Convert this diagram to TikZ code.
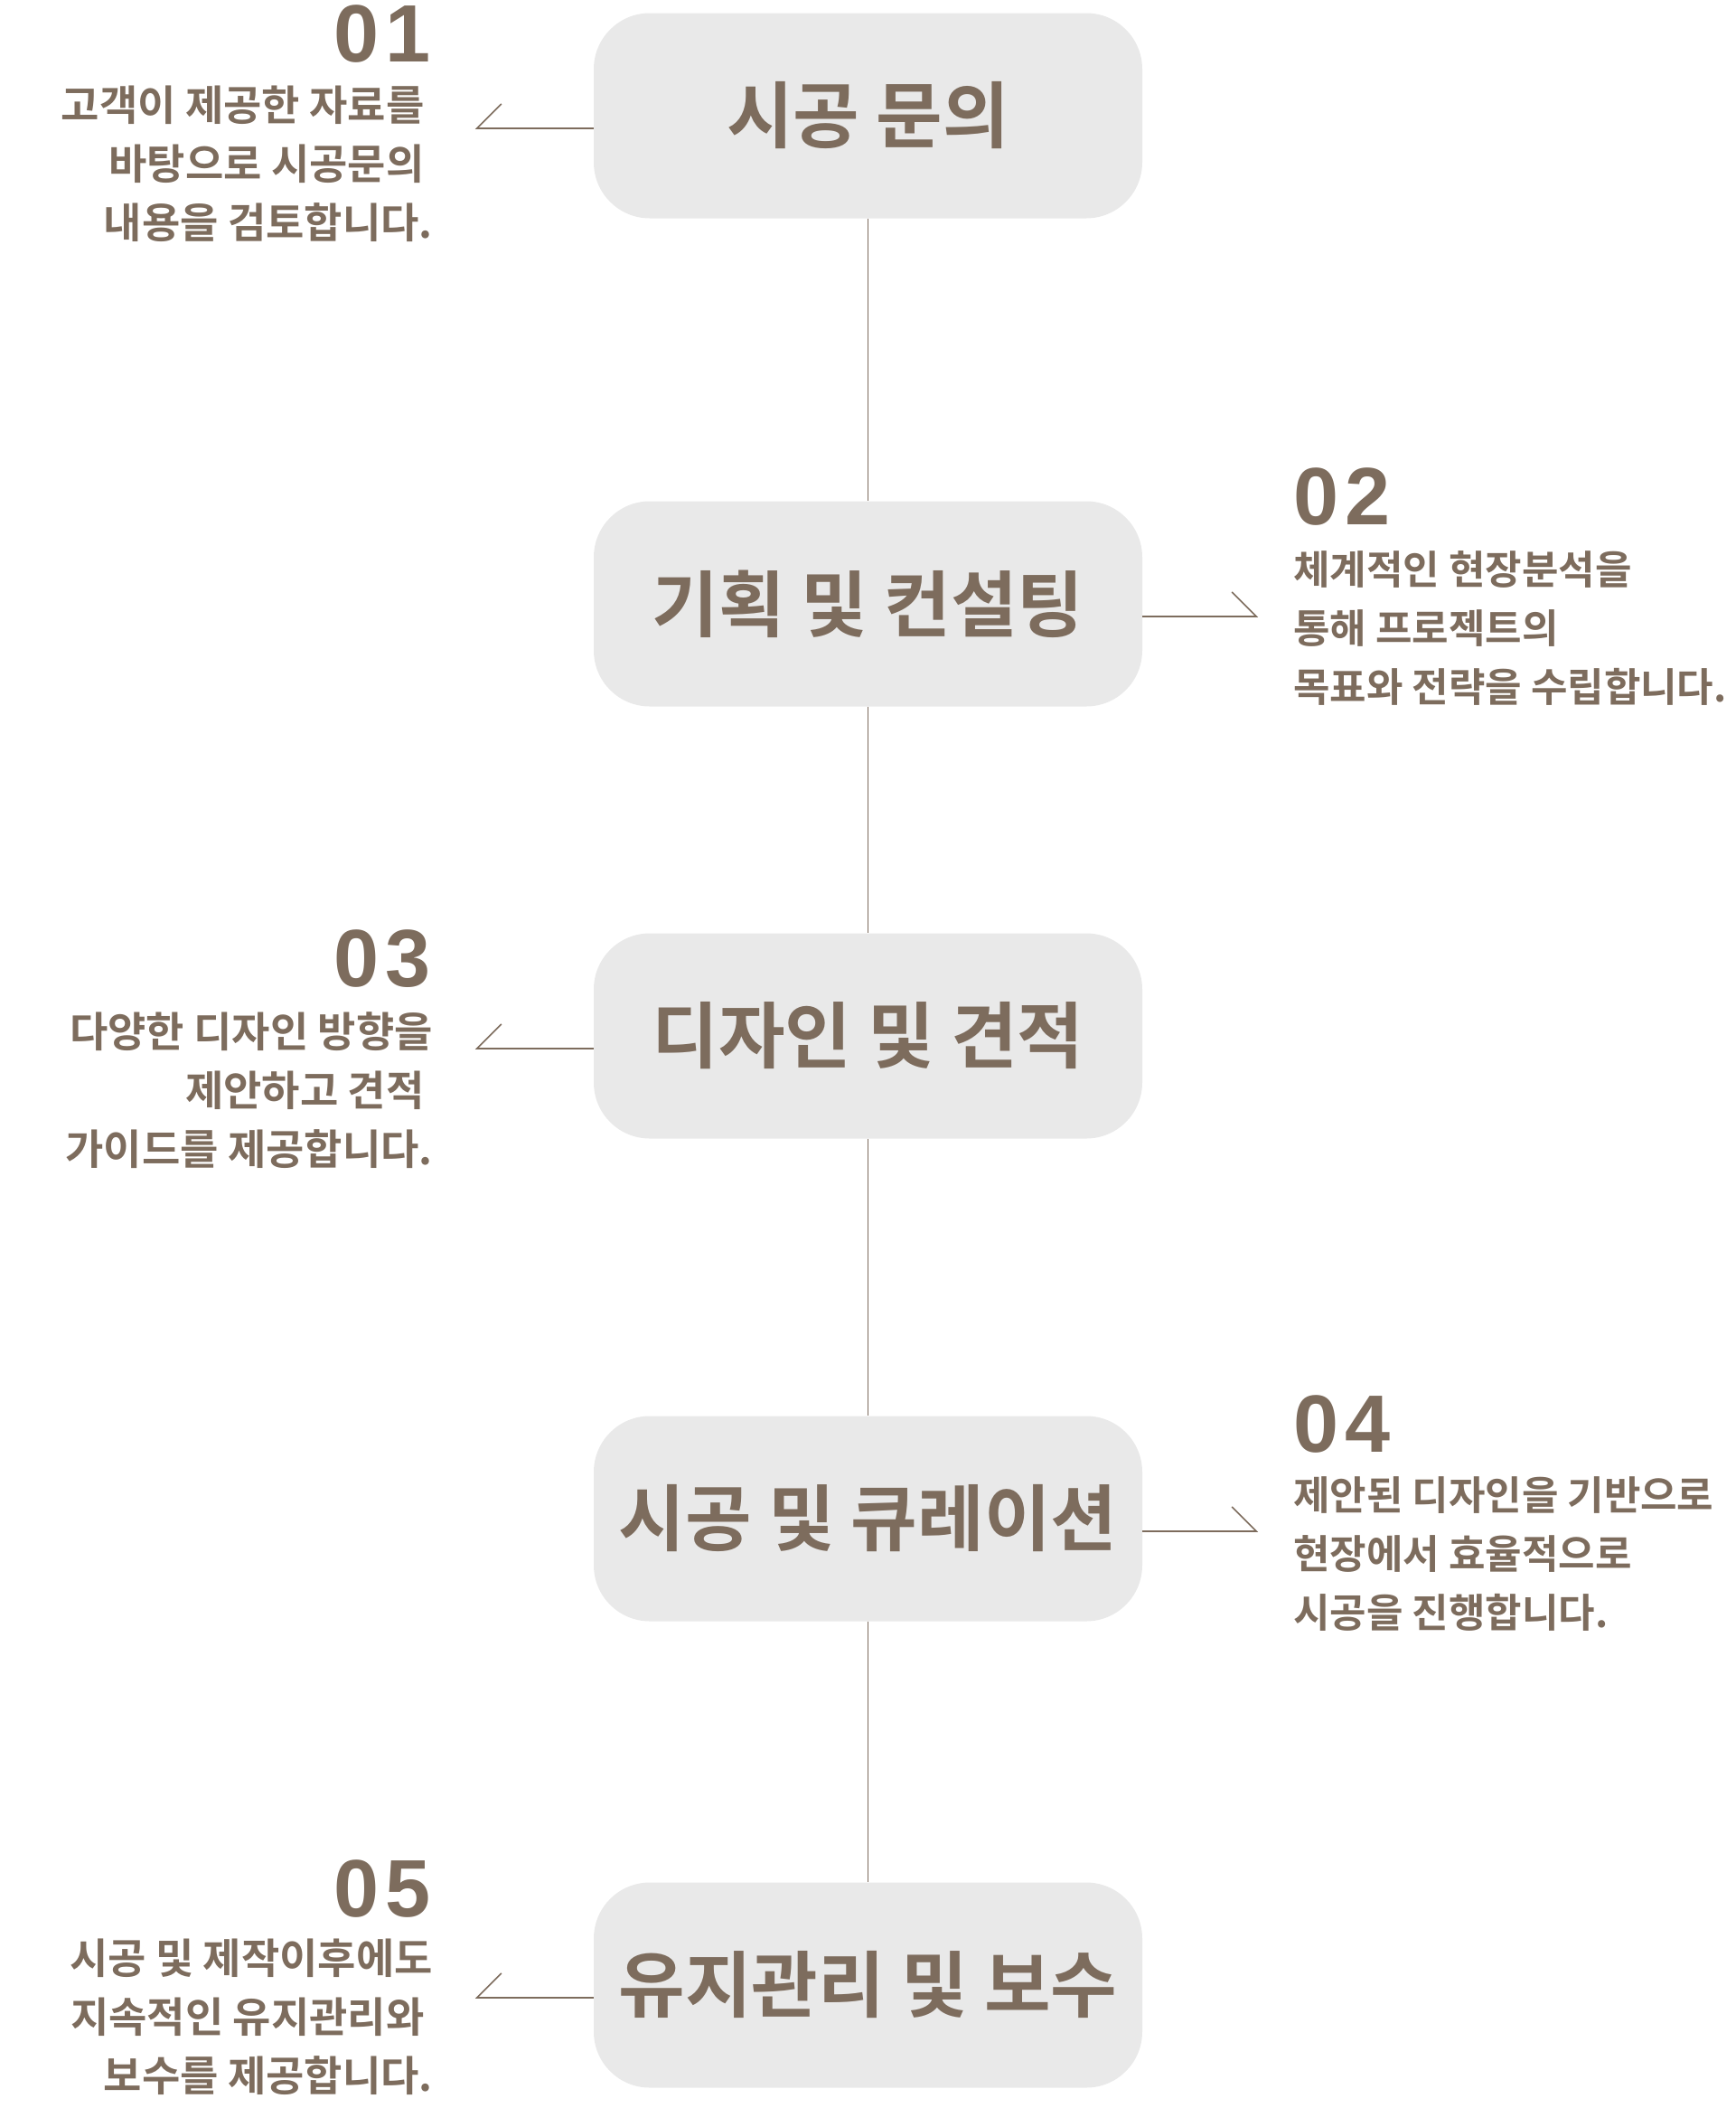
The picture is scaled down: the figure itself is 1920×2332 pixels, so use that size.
\documentclass[tikz,border=0pt]{standalone}
\usepackage{fontspec}
\setmainfont{Noto Sans CJK KR}[BoldFont=* Bold]
\newfontfamily\numfont{Liberation Sans}
\usetikzlibrary{positioning, calc}
\definecolor{MyBrown}{HTML}{7D6C5D}
\definecolor{MyGrey}{HTML}{E9E9E9}
\newcommand{\tailgap}[1]{\rule{#1}{0pt}}

\begin{document}
\begin{tikzpicture}[x=1pt, y=-1pt,
	link/.style={draw=MyBrown, line width=1.6pt},
	stepbox/.style={fill=MyGrey, rounded corners=62pt, minimum width=607pt, minimum height=227pt, inner sep=0pt, text=MyBrown, font=\bfseries\fontsize{80}{90}\selectfont},
	num/.style={text=MyBrown, inner sep=0pt, font=\numfont\bfseries\fontsize{90}{90}\selectfont},
	desc/.style={text=MyBrown, inner sep=0pt, font=\bfseries\fontsize{44}{65}\selectfont},
	ldesc/.style={desc, anchor=east, align=right, font=\bfseries\fontsize{46}{65}\selectfont}]
	\useasboundingbox (0,0) rectangle (1920,2332);
	
	\node[stepbox] (s1) at (960.5,128) {시공 문의};
	\node[stepbox] (s2) at (960.5,668) {기획 및 컨설팅};
	\node[stepbox] (s3) at (960.5,1146) {디자인 및 견적};
	\node[stepbox] (s4) at (960.5,1680) {시공 및 큐레이션};
	\node[stepbox] (s5) at (960.5,2196) {유지관리 및 보수};
	
	\foreach \a/\b in {s1/s2, s2/s3, s3/s4, s4/s5}{
		\draw[link] (\a) -- (\b);}
	%
	\node[num, anchor=east] (n1) at (477,38) {0\kern.08em1};
	\node[ldesc] (d1) at (479,181) {고객이 제공한 자료를\tailgap{0.2em}\\바탕으로 시공문의\tailgap{0.2em}\\내용을 검토합니다.};
	%
	\node[num, anchor=west] (n2) at (1431,550) {0\kern.08em2};
	\node[desc, anchor=west, align=left] (d2) at (1431,695) {체계적인 현장분석을\\통해 프로젝트의\\목표와 전략을 수립합니다.};
	%
	\node[num, anchor=east] (n3) at (477,1061) {0\kern.08em3};
	\node[ldesc] (d3) at (479,1206) {다양한 디자인 방향을\\제안하고 견적\tailgap{0.2em}\\가이드를 제공합니다.};
	%
	\node[num, anchor=west] (n4) at (1431,1575) {0\kern.08em4};
	\node[desc, anchor=west, align=left] (d4) at (1431,1719) {제안된 디자인을 기반으로\\현장에서 효율적으로\\시공을 진행합니다.};
	%
	\node[num, anchor=east] (n5) at (477,2089) {0\kern.08em5};
	\node[ldesc] (d5) at (479,2231) {시공 및 제작이후에도\\지속적인 유지관리와\tailgap{0.2em}\\보수를 제공합니다.};
	
	% side connectors
	\foreach \s in {s1, s3, s5}{
		\coordinate (e\s) at ([xshift=-129pt, yshift=-14pt]\s.west);
		\coordinate (t\s) at ([xshift=-102pt, yshift=13pt]\s.west);
		\draw[link] ([yshift=-14pt]\s.west) -- (e\s) -- (t\s);}
	\foreach \s in {s2, s4}{
		\coordinate (e\s) at ([xshift=126pt, yshift=-14pt]\s.east);
		\coordinate (t\s) at ([xshift=99pt, yshift=13pt]\s.east);
		\draw[link] ([yshift=-14pt]\s.east) -- (e\s) -- (t\s);}
\end{tikzpicture}
\end{document}
